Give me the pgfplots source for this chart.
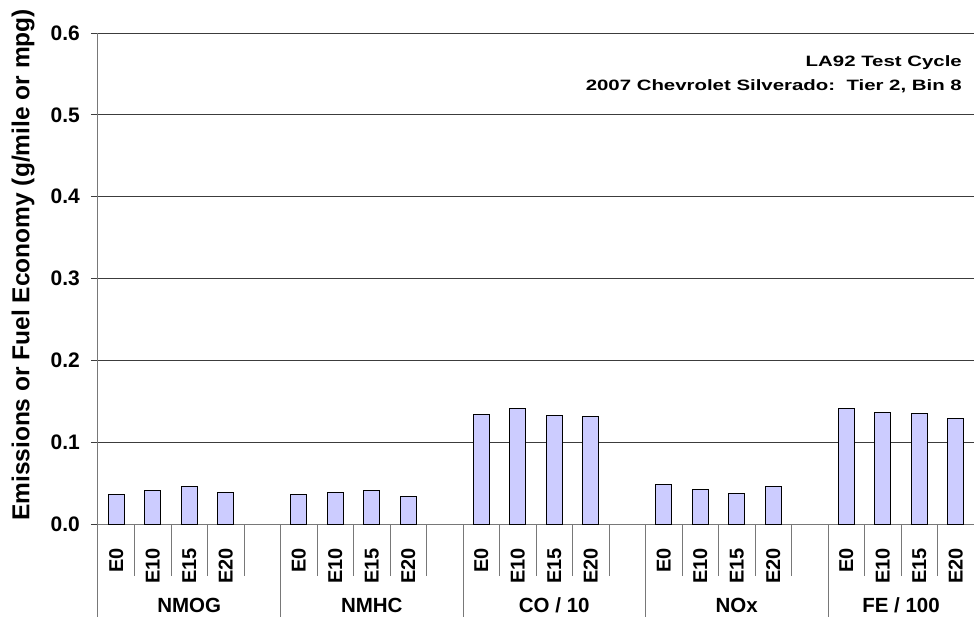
\documentclass[border=0pt]{standalone}
\usepackage{pgfplots}
\pgfplotsset{compat=1.18}
\usepackage{graphicx}
\usepackage{fontspec}
\setmainfont{Liberation Sans}

\definecolor{barfill}{RGB}{204,204,255}
\definecolor{gridc}{RGB}{60,60,60}
\definecolor{sepc}{RGB}{120,120,120}

% slot position (bar centre) and value, 4 fuels per pollutant
\pgfplotstableread{
x    y
0.5  0.0363
1.5  0.0412
2.5  0.0461
3.5  0.0391
5.5  0.0358
6.5  0.0379
7.5  0.0412
8.5  0.0330
10.5 0.1336
11.5 0.1410
12.5 0.1324
13.5 0.1308
15.5 0.0477
16.5 0.0416
17.5 0.0375
18.5 0.0461
20.5 0.1410
21.5 0.1360
22.5 0.1353
23.5 0.1287
}\emis

\newcommand{\tf}{\fontsize{20}{20}\selectfont\bfseries}
\tikzset{grp/.style={font=\fontsize{20.5}{20}\selectfont\bfseries, anchor=base, inner sep=0pt}}

\begin{document}
\begin{tikzpicture}
\begin{axis}[
  scale only axis, width=876pt, height=491pt,
  xmin=0, xmax=24, ymin=0, ymax=0.6,
  axis lines=left, axis line style={-, draw=sepc, line width=1pt},
  clip=false,
  ytick={0,0.1,0.2,0.3,0.4,0.5,0.6},
  yticklabels={0.0,0.1,0.2,0.3,0.4,0.5,0.6},
  ymajorgrids, major grid style={draw=gridc, line width=0.9pt},
  tick align=outside, major tick length=7pt,
  ytick style={draw=gridc, line width=0.9pt},
  yticklabel style={font=\fontsize{21}{21}\selectfont\bfseries, anchor=east, inner sep=0pt},
  yticklabel shift=11pt,
  xtick={0.5,1.5,2.5,3.5,5.5,6.5,7.5,8.5,10.5,11.5,12.5,13.5,15.5,16.5,17.5,18.5,20.5,21.5,22.5,23.5},
  xticklabels={E0,E10,E15,E20,E0,E10,E15,E20,E0,E10,E15,E20,E0,E10,E15,E20,E0,E10,E15,E20},
  xtick style={draw=none},
  xticklabel style={font=\tf, rotate=90, anchor=east, inner sep=0pt},
  xticklabel shift=17pt,
  ybar, bar width=15.7pt, bar shift=0pt,
]
\addplot[fill=barfill, draw=black, line width=1pt] table[x=x, y=y] {\emis};

\coordinate (o) at (rel axis cs:0,0);
\coordinate (e) at (rel axis cs:1,1);

% category separators under the axis
\pgfplotsinvokeforeach{1,2,3,4,6,7,8,9,11,12,13,14,16,17,18,19,21,22,23}{
  \draw[sepc, line width=1pt] (axis cs:#1,0) -- ++(0,-52pt);
}
\pgfplotsinvokeforeach{0,5,10,15,20}{
  \draw[sepc, line width=1pt] (axis cs:#1,0) -- ++(0,-93pt);
}

% group names
\node[grp] at ([yshift=-88pt]axis cs:2.5,0) {NMOG};
\node[grp] at ([yshift=-88pt]axis cs:7.5,0) {NMHC};
\node[grp] at ([yshift=-88pt]axis cs:12.5,0) {CO / 10};
\node[grp] at ([yshift=-88pt]axis cs:17.5,0) {NOx};
\node[grp] at ([yshift=-88pt]axis cs:22,0) {FE / 100};
\end{axis}

\node[rotate=90, inner sep=0pt, font=\fontsize{24.5}{24}\selectfont\bfseries]
  at ([xshift=-75pt, yshift=259pt]o) {Emissions or Fuel Economy (g/mile or mpg)};

\node[anchor=base east, inner sep=0pt, font=\fontsize{15}{15}\selectfont\bfseries]
  at ([xshift=-12pt, yshift=457pt]o -| e) {\scalebox{1.36}[1]{LA92 Test Cycle}};
\node[anchor=base east, inner sep=0pt, font=\fontsize{15}{15}\selectfont\bfseries]
  at ([xshift=-12pt, yshift=433pt]o -| e) {\scalebox{1.36}[1]{2007 Chevrolet Silverado:\ \ Tier 2, Bin 8}};

\pgfresetboundingbox
\path[use as bounding box] ([xshift=-98pt, yshift=-97pt]o) rectangle ++(974pt,621pt);
\end{tikzpicture}
\end{document}
